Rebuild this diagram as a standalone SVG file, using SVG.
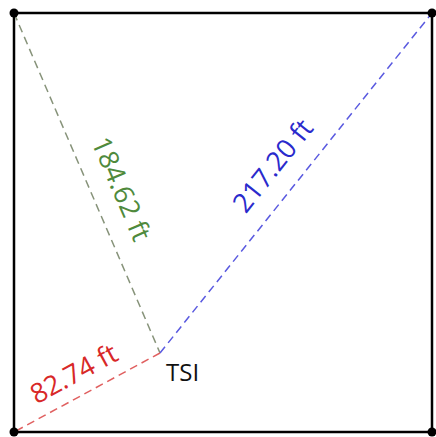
<svg xmlns="http://www.w3.org/2000/svg" width="436" height="437" viewBox="0 0 436 437">
<style>
.edge{fill:none;stroke-width:1.5;stroke-dasharray:8,5}
.lbl{font-family:"Open Sans","Noto Sans",sans-serif;font-size:27px;text-anchor:middle}
.dot{fill:#000}
</style>
<rect width="436" height="437" fill="#fff"/>
<g id="boundary">
<rect x="14" y="13" width="418" height="419" fill="none" stroke="#000" stroke-width="2.5"/>
</g>
<g id="connectors">
<line class="edge" x1="14" y1="13" x2="160" y2="353" stroke="#87937a"/>
<line class="edge" x1="160" y1="353" x2="432" y2="13" stroke="#5a5ae0"/>
<line class="edge" x1="160" y1="353" x2="14" y2="432" stroke="#e06060"/>
</g>
<g id="corner-tl"><circle class="dot" cx="14" cy="13" r="4.5"/></g>
<g id="corner-tr"><circle class="dot" cx="432" cy="13" r="4.5"/></g>
<g id="corner-bl"><circle class="dot" cx="14" cy="432" r="4.5"/></g>
<g id="corner-br"><circle class="dot" cx="432" cy="432" r="4.5"/></g>
<g id="tsi">
<text x="166" y="381" font-family="Open Sans, Noto Sans, sans-serif" font-size="24" fill="#111">TSI</text>
</g>
<g id="label-green">
<text class="lbl" transform="translate(121,189) rotate(66.8)" y="9" fill="#4f8a3c">184.62 ft</text>
</g>
<g id="label-blue">
<text class="lbl" transform="translate(273,166) rotate(-51.3)" y="9" fill="#2a2acc">217.20 ft</text>
</g>
<g id="label-red">
<text class="lbl" transform="translate(74,374) rotate(-28.4)" y="9" fill="#d82828">82.74 ft</text>
</g>
</svg>
